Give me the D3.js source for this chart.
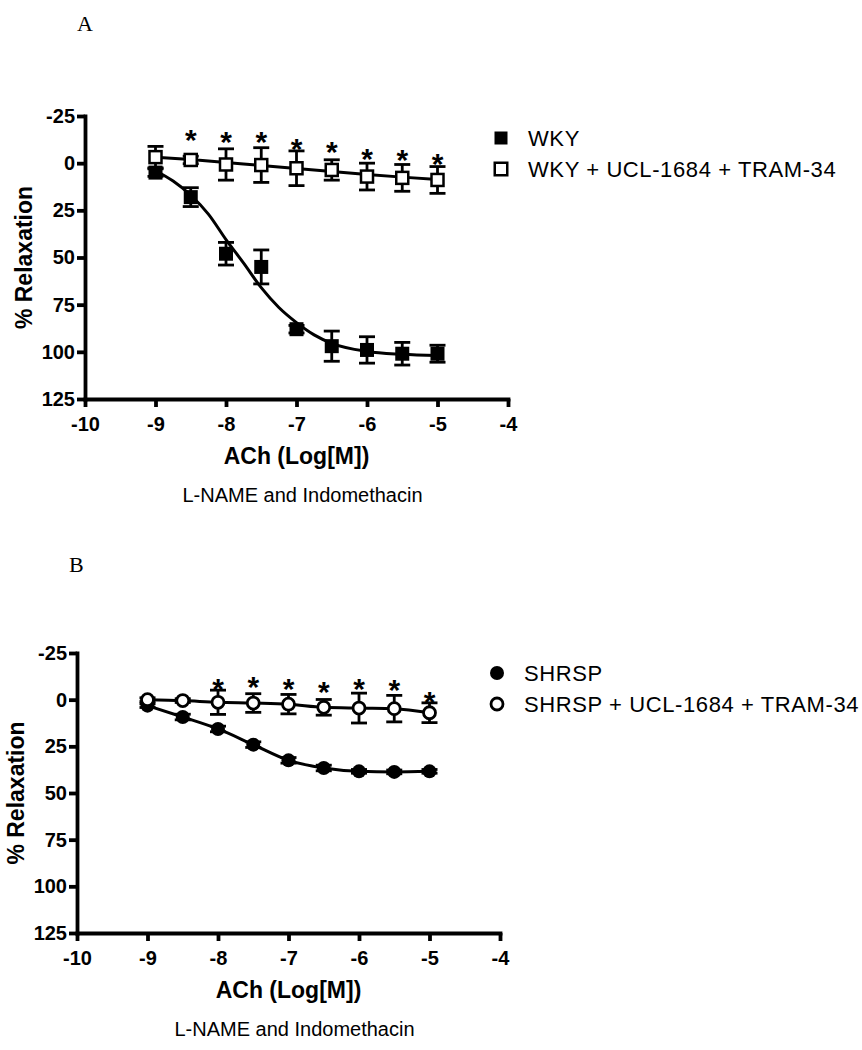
<!DOCTYPE html>
<html>
<head>
<meta charset="utf-8">
<script src="https://cdn.jsdelivr.net/npm/d3@7"></script>
<style>
    body { margin: 0; background: #fff; }
    svg { display: block; }
</style>
</head>
<body>
<svg id="chart" width="862" height="1050"></svg>
<script>
// ACh doses, log[M]
const doses = [-9, -8.5, -8, -7.5, -7, -6.5, -6, -5.5, -5]
const xTicks = [-10, -9, -8, -7, -6, -5, -4]
const yTicks = [-25, 0, 25, 50, 75, 100, 125]

// panel A
const wkyMean = [5, 18, 48, 55, 88, 97, 99, 101, 101]
const wkyErr = [2, 5, 6, 9, 2, 8, 7, 6, 4.5]
const wkyBlockMean = [-3.2, -1.7, 0.7, 1, 2.7, 3.6, 7.1, 7.8, 8.9]
const wkyBlockErr = [5.7, 2, 8.3, 9.2, 9.2, 5.4, 7.1, 7.1, 7.1]
// fitted curves
const wkyFitDoses = [-9, -8.75, -8.5, -8.25, -8, -7.75, -7.5, -7.25, -7, -6.75, -6.5, -6, -5.5, -5]
const wkyFit = [4, 9.5, 17, 27, 40.5, 53, 66, 76.5, 84.5, 91, 95.5, 99.8, 101.3, 102]
const wkyBlockFit = [-3.2, -1.9, -0.3, 1.2, 2.8, 4.4, 6.0, 7.4, 8.6]
const wkyStarDoses = [-8.5, -8, -7.5, -7, -6.5, -6, -5.5, -5]
const wkyStarY = [-15.8, -14.9, -14.9, -11.4, -9.6, -6.1, -5.2, -3.4]

// panel B
const shrspMean = [3.2, 9.3, 15.7, 24.1, 32.5, 36.6, 38.4, 38.7, 38.4]
const shrspErr = [1, 1.5, 1.5, 1.5, 1.5, 1.5, 1, 1, 1]
const shrspBlockMean = [0, 0.5, 1.4, 1.8, 2.4, 4.1, 4.5, 4.8, 7]
const shrspBlockErr = [1, 1, 6.5, 5, 5.2, 4.2, 8, 7.1, 5.3]
const shrspStarDoses = [-8, -7.5, -7, -6.5, -6, -5.5, -5]
const shrspStarY = [-9.6, -10.6, -9.6, -7.9, -9.6, -8.8, -2.5]

const sans = 'Arial, "Liberation Sans", sans-serif'
const serif = '"Times New Roman", "Liberation Serif", serif'

const svg = d3.select('#chart')

function zip(xs, ys) {
    return xs.map((d, i) => ({ x: d, y: ys[i] }))
}

function drawPanel(p) {
    const x = d3.scaleLinear().domain([-10, -4]).range([p.left, p.right])
    const y = d3.scaleLinear().domain([-25, 125]).range([p.top, p.bottom])

    const g = svg.append('g')

    // panel letter
    g.append('text')
        .attr('x', p.left - 8)
        .attr('y', p.letterY)
        .style('font-family', serif)
        .style('font-size', '22px')
        .text(p.letter)

    // axes
    const fmt = d => String(d)
    const xAxis = g.append('g')
        .attr('transform', 'translate(0,' + p.bottom + ')')
        .call(d3.axisBottom(x).tickValues(xTicks).tickFormat(fmt)
            .tickSize(8).tickSizeOuter(0).tickPadding(10))
    const yAxis = g.append('g')
        .attr('transform', 'translate(' + p.left + ',0)')
        .call(d3.axisLeft(y).tickValues(yTicks).tickFormat(fmt)
            .tickSize(8).tickSizeOuter(0).tickPadding(2))

    ;[xAxis, yAxis].forEach(a => {
        a.select('.domain').attr('stroke-width', 3.8).attr('stroke-linecap', 'square')
        a.selectAll('.tick line').attr('stroke-width', 3.8)
        a.selectAll('.tick text')
            .style('font-family', sans)
            .style('font-size', '20px')
            .style('font-weight', 'bold')
            .attr('fill', '#000')
    })

    // axis titles
    g.append('text')
        .attr('x', (p.left + p.right) / 2)
        .attr('y', p.bottom + 65)
        .attr('text-anchor', 'middle')
        .style('font-family', sans)
        .style('font-size', '23px')
        .style('font-weight', 'bold')
        .text('ACh (Log[M])')

    g.append('text')
        .attr('x', (p.left + p.right) / 2 + 6)
        .attr('y', p.bottom + 103)
        .attr('text-anchor', 'middle')
        .style('font-family', sans)
        .style('font-size', '20px')
        .text('L-NAME and Indomethacin')

    g.append('text')
        .attr('transform', 'translate(' + (p.left - 53) + ',' + (p.top + p.bottom) / 2 + ') rotate(-90)')
        .attr('text-anchor', 'middle')
        .style('font-family', sans)
        .style('font-size', '23px')
        .style('font-weight', 'bold')
        .text('% Relaxation')

    const line = d3.line()
        .x(d => x(d.x))
        .y(d => y(d.y))
        .curve(d3.curveMonotoneX)

    p.series.forEach(s => {
        const pts = doses.map((d, i) => ({ x: d, m: s.mean[i], e: s.err[i] }))

        // error bars
        const eb = g.append('g').attr('stroke', '#000').attr('stroke-width', 2.8)
        pts.forEach(d => {
            eb.append('line')
                .attr('x1', x(d.x)).attr('x2', x(d.x))
                .attr('y1', y(d.m - d.e)).attr('y2', y(d.m + d.e))
            ;[d.m - d.e, d.m + d.e].forEach(v => {
                eb.append('line')
                    .attr('x1', x(d.x) - 8).attr('x2', x(d.x) + 8)
                    .attr('y1', y(v)).attr('y2', y(v))
            })
        })

        // curve
        g.append('path')
            .datum(zip(s.fitX, s.fitY))
            .attr('fill', 'none')
            .attr('stroke', '#000')
            .attr('stroke-width', 3)
            .attr('d', line)
    })

    // markers on top
    p.series.forEach(s => {
        const pts = doses.map((d, i) => ({ x: d, m: s.mean[i] }))
        drawMarkers(g, pts.map(d => [x(d.x), y(d.m)]), s)
    })

    // asterisks
    g.selectAll('text.star')
        .data(zip(p.starX, p.starY))
        .enter()
        .append('text')
        .attr('class', 'star')
        .attr('x', d => x(d.x))
        .attr('y', d => y(d.y) + 17)
        .attr('text-anchor', 'middle')
        .style('font-family', sans)
        .style('font-size', '30px')
        .style('font-weight', 'bold')
        .text('*')

    // legend
    p.series.forEach((s, i) => {
        const ly = p.legendY + i * 31
        drawMarkers(g, [[p.legendX, ly - 8]], s, true)
        g.append('text')
            .attr('x', p.legendX + 27)
            .attr('y', ly)
            .style('font-family', sans)
            .style('font-size', '22px')
            .style('letter-spacing', '0.6px')
            .text(s.name)
    })
}

function drawMarkers(g, coords, s, legend) {
    coords.forEach(c => {
        if (s.shape === 'square') {
            const size = s.filled ? (legend ? 13 : 14) : (legend ? 12.5 : 12)
            g.append('rect')
                .attr('x', c[0] - size / 2)
                .attr('y', c[1] - size / 2)
                .attr('width', size)
                .attr('height', size)
                .attr('fill', s.filled ? '#000' : '#fff')
                .attr('stroke', s.filled ? 'none' : '#000')
                .attr('stroke-width', 2.5)
        } else {
            g.append('circle')
                .attr('cx', c[0])
                .attr('cy', c[1])
                .attr('r', s.filled ? 7 : 6)
                .attr('fill', s.filled ? '#000' : '#fff')
                .attr('stroke', s.filled ? 'none' : '#000')
                .attr('stroke-width', 2.8)
        }
    })
}

drawPanel({
    letter: 'A', letterY: 31,
    left: 85, right: 508, top: 116, bottom: 399,
    legendX: 501, legendY: 146,
    starX: wkyStarDoses, starY: wkyStarY,
    series: [
        { name: 'WKY', shape: 'square', filled: true, mean: wkyMean, err: wkyErr, fitX: wkyFitDoses, fitY: wkyFit },
        { name: 'WKY + UCL-1684 + TRAM-34', shape: 'square', filled: false, mean: wkyBlockMean, err: wkyBlockErr, fitX: doses, fitY: wkyBlockFit }
    ]
})

drawPanel({
    letter: 'B', letterY: 572,
    left: 77, right: 500, top: 653, bottom: 933,
    legendX: 497, legendY: 681,
    starX: shrspStarDoses, starY: shrspStarY,
    series: [
        { name: 'SHRSP', shape: 'circle', filled: true, mean: shrspMean, err: shrspErr, fitX: doses, fitY: shrspMean },
        { name: 'SHRSP + UCL-1684 + TRAM-34', shape: 'circle', filled: false, mean: shrspBlockMean, err: shrspBlockErr, fitX: doses, fitY: shrspBlockMean }
    ]
})
</script>
</body>
</html>
